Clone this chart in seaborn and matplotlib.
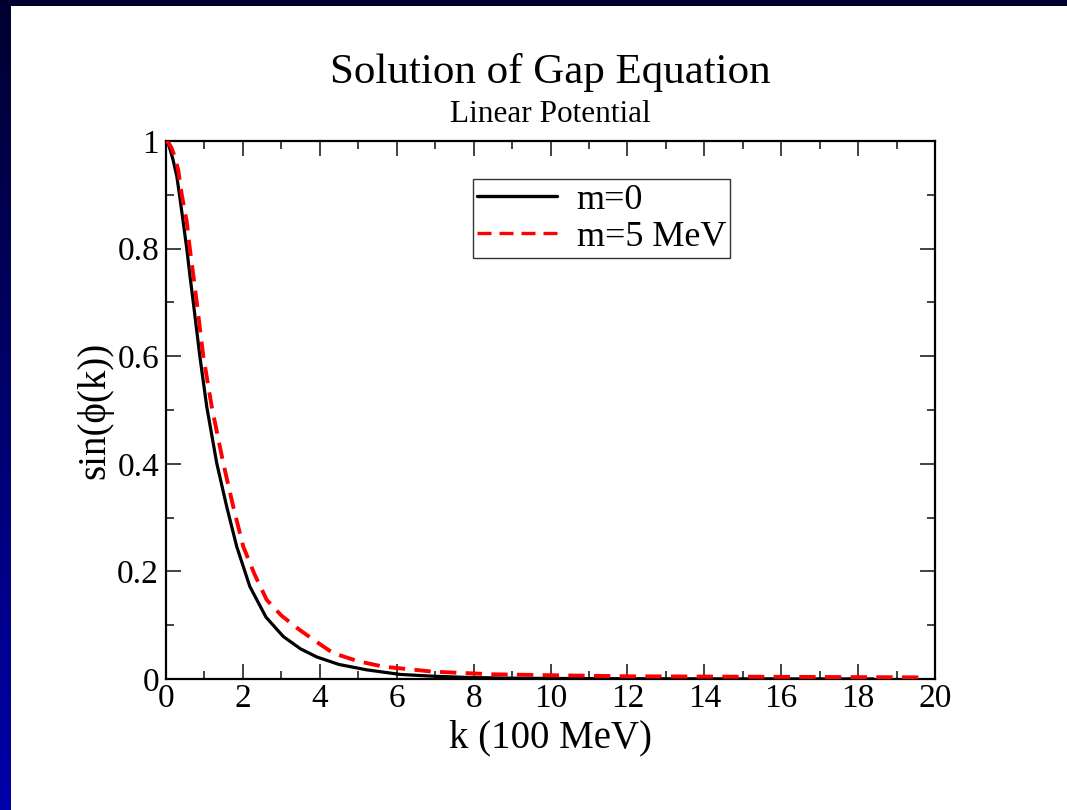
import numpy as np
import pandas as pd
import matplotlib
matplotlib.use("Agg")
import matplotlib.pyplot as plt
from matplotlib.patches import Rectangle
from matplotlib.colors import LinearSegmentedColormap
from matplotlib.ticker import MultipleLocator, FuncFormatter
import seaborn as sns

# ---- data ----
k_m0 = [0, 0.05, 0.10, 0.18, 0.28, 0.36, 0.45, 0.54, 0.62, 0.71, 0.88, 1.06, 1.32,
        1.58, 1.84, 2.18, 2.6, 3.05, 3.5, 3.92, 4.5, 5.22, 6.09, 7.0, 7.82, 9.0,
        10.0, 12.0, 14.0, 16.0, 18.4]
v_m0 = [1.0, 0.996, 0.986, 0.966, 0.935, 0.895, 0.848, 0.80, 0.751, 0.70, 0.60,
        0.506, 0.401, 0.32, 0.246, 0.172, 0.115, 0.079, 0.056, 0.041, 0.027, 0.017,
        0.0085, 0.005, 0.003, 0.0015, 0.001, 0.0005, 0.0003, 0.0002, 0.0001]

k_m5 = [0, 0.07, 0.15, 0.24, 0.32, 0.41, 0.54, 0.62, 0.71, 0.80, 0.97, 1.19, 1.49,
        1.75, 2.01, 2.3, 2.62, 3.0, 3.48, 4.0, 4.35, 5.0, 5.65, 6.95, 8.51, 10.0,
        12.0, 14.0, 16.0, 18.0, 19.7]
v_m5 = [1.0, 0.996, 0.986, 0.968, 0.945, 0.90, 0.85, 0.80, 0.751, 0.70, 0.60,
        0.506, 0.401, 0.32, 0.246, 0.195, 0.147, 0.118, 0.091, 0.065, 0.048, 0.033,
        0.023, 0.0136, 0.0087, 0.007, 0.005, 0.0045, 0.004, 0.0035, 0.003]

labels = ["m=0", "m=5 MeV"]
x_ticks = [0, 2, 4, 6, 8, 10, 12, 14, 16, 18, 20]
y_ticks = [0, 0.2, 0.4, 0.6, 0.8, 1.0]

title = "Solution of Gap Equation"
subtitle = "Linear Potential"
xlabel = "k (100 MeV)"
ylabel = "sin(\u03d5(k))"

# ---- styling ----
sns.set_style("ticks")
plt.rcParams["font.family"] = ["Liberation Serif", "DejaVu Serif"]
plt.rcParams["text.color"] = "black"
plt.rcParams["axes.labelcolor"] = "black"
plt.rcParams["xtick.color"] = "black"
plt.rcParams["ytick.color"] = "black"

W, H = 1067, 810
fig = plt.figure(figsize=(W / 100, H / 100), dpi=100)

# dark blue gradient frame
bg = fig.add_axes([0, 0, 1, 1], zorder=-10)
grad = np.linspace(0, 1, 256).reshape(-1, 1)
cmap = LinearSegmentedColormap.from_list("frame", ["#000030", "#0000aa"])
bg.imshow(grad, aspect="auto", cmap=cmap, extent=[0, 1, 0, 1], origin="upper")
bg.set_axis_off()
bg.add_patch(Rectangle((11 / W, 0), 1 - 11 / W, 1 - 6 / H, transform=bg.transAxes,
                       facecolor="white", edgecolor="none"))

ax = fig.add_axes([166 / W, 1 - 679 / H, (935 - 166) / W, (679 - 141) / H])
ax.set_facecolor("white")

df0 = pd.DataFrame({"k": k_m0, "v": v_m0})
df5 = pd.DataFrame({"k": k_m5, "v": v_m5})
sns.lineplot(data=df0, x="k", y="v", ax=ax, color="black", lw=2.3,
             label=labels[0], errorbar=None, zorder=3)
sns.lineplot(data=df5, x="k", y="v", ax=ax, color="#ff0000", lw=2.8,
             label=labels[1], errorbar=None, zorder=4)
ax.lines[1].set_dashes([4.2, 2.4])

ax.set_xlim(0, 20)
ax.set_ylim(0, 1)
ax.set_xticks(x_ticks)
ax.set_yticks(y_ticks)
ax.xaxis.set_minor_locator(MultipleLocator(1))
ax.yaxis.set_minor_locator(MultipleLocator(0.1))
ax.xaxis.set_major_formatter(FuncFormatter(lambda v, p: f"{v:g}"))
ax.yaxis.set_major_formatter(FuncFormatter(lambda v, p: f"{v:g}"))

ax.tick_params(which="both", direction="in", top=True, right=True,
               color="#333333", labelsize=24, labelcolor="black")
ax.tick_params(which="major", length=11, width=1.3)
ax.tick_params(axis="x", which="major", pad=3)
ax.tick_params(axis="y", which="major", pad=5)
ax.tick_params(which="minor", length=5.5, width=1.3)
for s in ax.spines.values():
    s.set_visible(True)
    s.set_linewidth(1.6)
    s.set_color("black")

ax.set_xlabel(xlabel, fontsize=28, labelpad=4)
ax.set_ylabel(ylabel, fontsize=28, labelpad=3)

fig.text(550.5 / W, 1 - 73 / H, title, ha="center", va="center", fontsize=31)
fig.text(550.5 / W, 1 - 115 / H, subtitle, ha="center", va="center", fontsize=22.5)

leg = ax.legend(loc="upper left", bbox_to_anchor=((473 - 166) / 769, (679 - 179) / 538),
                borderaxespad=0, fontsize=26, frameon=True, fancybox=False,
                handlelength=2.2, handletextpad=0.55, labelspacing=0.1,
                borderpad=0.12)
leg.get_frame().set_edgecolor("black")
leg.get_frame().set_linewidth(1.0)
for h in leg.get_lines():
    h.set_linewidth(2.4)

fig.savefig("out.png", dpi=100)
